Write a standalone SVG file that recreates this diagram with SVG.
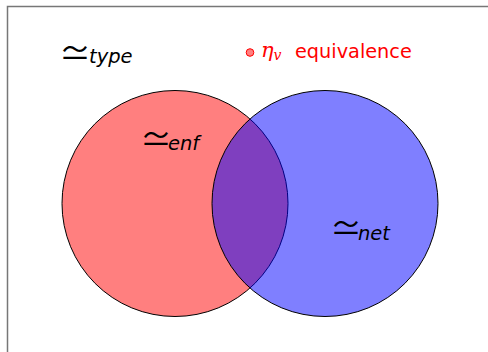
<svg xmlns="http://www.w3.org/2000/svg" width="488" height="352" viewBox="0 0 488 352">
<style>
.frame{fill:none;stroke:#777;stroke-width:1.5}
.set{stroke:#000;stroke-width:1}
.lbl{fill:#000}
.sym{font-family:"Noto Sans CJK JP","DejaVu Sans",sans-serif;font-weight:400;font-size:32px}
.sub{font-family:"DejaVu Sans",sans-serif;font-style:italic;font-size:19.5px}
.red{fill:#ff0000}
</style>
<rect width="488" height="352" fill="#fff"/>
<path class="frame" d="M7.5 352 V6.5 H488"/>
<g id="enf">
<circle class="set" cx="175" cy="203.5" r="113" fill="#ff0000" fill-opacity="0.5"/>
<text class="lbl"><tspan class="sym" x="140" y="150.5">≃</tspan><tspan class="sub" x="168" y="150">enf</tspan></text>
</g>
<g id="net">
<circle class="set" cx="325" cy="203.5" r="113" fill="#0000ff" fill-opacity="0.5"/>
<text class="lbl"><tspan class="sym" x="330" y="240">≃</tspan><tspan class="sub" x="358" y="240">net</tspan></text>
</g>
<g id="type">
<text class="lbl"><tspan class="sym" x="59" y="64.5">≃</tspan><tspan class="sub" x="89" y="63">type</tspan></text>
</g>
<g id="legend">
<circle cx="250" cy="52.5" r="3.8" fill="#ff8080" stroke="#ff0000" stroke-width="1"/>
<text x="261" y="57" font-family="'DejaVu Serif',serif" font-style="italic" font-size="21" class="red">η<tspan font-size="14" dy="3">v</tspan></text>
<text x="295" y="58" font-family="'DejaVu Sans',sans-serif" font-size="19.3" class="red">equivalence</text>
</g>
<g id="connectors"/>
</svg>
